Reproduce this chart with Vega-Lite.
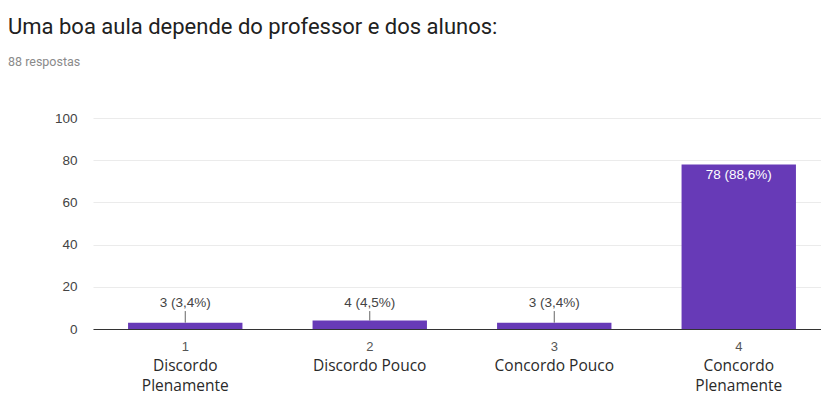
{
  "$schema": "https://vega.github.io/schema/vega-lite/v6.json",
  "autosize": "none",
  "padding": {"left": 93, "top": 118, "right": 0, "bottom": 71},
  "width": 738,
  "height": 211,
  "background": "white",
  "title": {
    "text": "Uma boa aula depende do professor e dos alunos:",
    "subtitle": "88 respostas",
    "anchor": "start",
    "frame": "group",
    "dx": -85,
    "offset": 42,
    "font": "Roboto",
    "fontSize": 22,
    "fontWeight": "normal",
    "color": "#212121",
    "subtitleFont": "Roboto",
    "subtitleFontSize": 12.5,
    "subtitleColor": "#8a8a8a",
    "subtitlePadding": 17
  },
  "config": {"view": {"stroke": null}},
  "data": {
    "values": [
      {"cat": "1", "name": "Discordo Plenamente", "count": 3, "label": "3 (3,4%)"},
      {"cat": "2", "name": "Discordo Pouco", "count": 4, "label": "4 (4,5%)"},
      {"cat": "3", "name": "Concordo Pouco", "count": 3, "label": "3 (3,4%)"},
      {"cat": "4", "name": "Concordo Plenamente", "count": 78, "label": "78 (88,6%)"}
    ]
  },
  "resolve": {"axis": {"x": "independent"}},
  "layer": [
    {
      "mark": {"type": "bar", "color": "#673ab7"},
      "encoding": {
        "x": {
          "field": "cat", "type": "nominal", "sort": null,
          "scale": {"paddingInner": 0.38, "paddingOuter": 0.19},
          "axis": {
            "orient": "bottom", "title": null, "labelAngle": 0, "ticks": false,
            "domainColor": "#333333", "domainWidth": 1,
            "labelFont": "Liberation Sans", "labelFontSize": 13, "labelColor": "#555555",
            "labelPadding": 11, "labelBaseline": "top"
          }
        },
        "y": {
          "field": "count", "type": "quantitative",
          "scale": {"domain": [0, 100]},
          "axis": {
            "title": null, "values": [0, 20, 40, 60, 80, 100], "ticks": false, "domain": false,
            "gridColor": "#ebebeb", "labelFont": "Liberation Sans", "labelFontSize": 13.5,
            "labelColor": "#444444", "labelPadding": 16
          }
        }
      }
    },
    {
      "transform": [{"filter": "datum.count < 50"}],
      "mark": {"type": "rule", "color": "#666666", "strokeWidth": 1},
      "encoding": {
        "x": {"field": "cat", "type": "nominal", "sort": null, "axis": null},
        "y": {"field": "count", "type": "quantitative"},
        "y2": {"datum": 8.5}
      }
    },
    {
      "transform": [{"filter": "datum.count < 50"}],
      "mark": {"type": "text", "font": "Liberation Sans", "fontSize": 13.5, "color": "#444444", "baseline": "middle"},
      "encoding": {
        "x": {"field": "cat", "type": "nominal", "sort": null, "axis": null},
        "y": {"datum": 12.3},
        "text": {"field": "label"}
      }
    },
    {
      "transform": [{"filter": "datum.count >= 50"}],
      "mark": {"type": "text", "font": "Liberation Sans", "fontSize": 13.5, "color": "white", "baseline": "top", "dy": 4},
      "encoding": {
        "x": {"field": "cat", "type": "nominal", "sort": null, "axis": null},
        "y": {"field": "count", "type": "quantitative"},
        "text": {"field": "label"}
      }
    },
    {
      "mark": {"type": "text", "text": ""},
      "encoding": {
        "x": {
          "field": "cat", "type": "nominal", "sort": null,
          "axis": {
            "orient": "bottom", "title": null, "labelAngle": 0, "ticks": false, "domain": false,
            "offset": 27, "labelPadding": 2, "labelBaseline": "top",
            "labelFont": "Open Sans", "labelFontSize": 15.5, "labelColor": "#2a2a2a", "labelLineHeight": 20,
            "labelExpr": "datum.value == '1' ? ['Discordo', 'Plenamente'] : datum.value == '2' ? 'Discordo Pouco' : datum.value == '3' ? 'Concordo Pouco' : ['Concordo', 'Plenamente']"
          }
        },
        "y": {"datum": 0}
      }
    }
  ]
}
